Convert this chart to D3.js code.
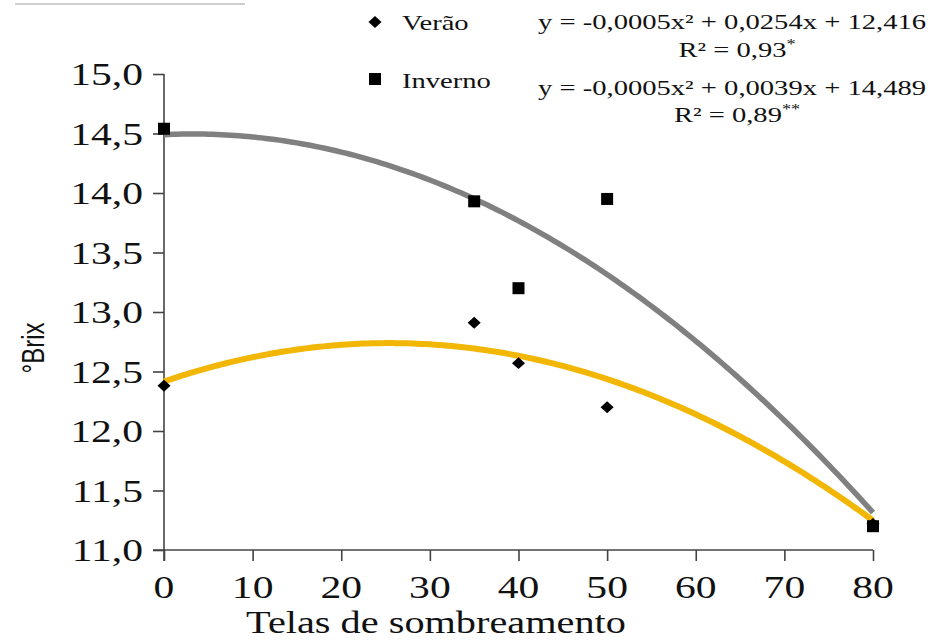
<!DOCTYPE html>
<html>
<head>
<meta charset="utf-8">
<script src="https://cdn.jsdelivr.net/npm/d3@7"></script>
<style>
  html, body { margin: 0; padding: 0; background: #fff; }
  svg { display: block; }
</style>
</head>
<body>
<svg id="chart" width="934" height="641"></svg>
<script>
// ---- data ----
const doses = [0, 35, 40, 50, 80];
const veraoValues = [12.38, 12.91, 12.57, 12.20, 11.22];
const invernoValues = [14.54, 13.93, 13.20, 13.95, 11.20];
// quadratic trend coefficients [a, b, c] for y = a x^2 + b x + c
const veraoTrend = [-0.0005, 0.0254, 12.416];
const invernoTrend = [-0.00054, 0.0035, 14.49];
const xTicks = [0, 10, 20, 30, 40, 50, 60, 70, 80];
const yTicks = [11.0, 11.5, 12.0, 12.5, 13.0, 13.5, 14.0, 14.5, 15.0];
const legendLabels = ["Verão", "Inverno"];
const equationLabels = ["y = -0,0005x² + 0,0254x + 12,416", "y = -0,0005x² + 0,0039x + 14,489"];
const r2Labels = ["R² = 0,93", "R² = 0,89"];
const r2Marks = ["*", "**"];
const xTitle = "Telas de sombreamento";
const yTitle = "°Brix";

// ---- layout ----
const SX = 1.3; // horizontal text stretch
const svg = d3.select("#chart");
const x = d3.scaleLinear().domain([0, 80]).range([164, 873]);
const y = d3.scaleLinear().domain([11, 15]).range([550, 74]);
const serif = "'Liberation Serif', 'Times New Roman', serif";
const sans = "'Liberation Sans', Arial, sans-serif";
const axisColor = "#444";

function stretchText(g, px, py, str, opts) {
  const t = g.append("text")
    .attr("transform", `translate(${px},${py}) scale(${SX},1)` + (opts.rotate ? ` rotate(${opts.rotate})` : ""))
    .attr("font-family", opts.family || serif)
    .attr("font-size", opts.size)
    .attr("text-anchor", opts.anchor || "start")
    .attr("fill", "#111")
    .text(str);
  return t;
}

// decorative top-left rule
svg.append("line").attr("x1", 15).attr("x2", 245).attr("y1", 4).attr("y2", 4)
  .attr("stroke", "#cfcfcf").attr("stroke-width", 2);

// axes
const xAxis = d3.axisBottom(x).tickValues(xTicks).tickSize(11).tickFormat("");
const yAxis = d3.axisLeft(y).tickValues(yTicks).tickSize(11).tickFormat("");
const gx = svg.append("g").attr("transform", `translate(0,${y(11)})`).call(xAxis);
const gy = svg.append("g").attr("transform", `translate(${x(0)},0)`).call(yAxis);
[gx, gy].forEach(g => {
  g.select(".domain").attr("stroke", axisColor).attr("stroke-width", 1.6);
  g.selectAll(".tick line").attr("stroke", axisColor).attr("stroke-width", 1.6);
});
gx.select(".domain").attr("d", `M${x(0) - 11},0H${x(80)}`);
gy.select(".domain").attr("d", `M0,${y(15)}V${y(11) + 11}`);

// tick labels
const labels = svg.append("g");
xTicks.forEach(v => stretchText(labels, x(v), 598, d3.format("d")(v), { size: 32, anchor: "middle" }));
yTicks.forEach(v => stretchText(labels, 143, y(v) + 11, d3.format(".1f")(v).replace(".", ","), { size: 32, anchor: "end" }));

// axis titles
stretchText(labels, 436, 633, xTitle, { size: 31, anchor: "middle" });
stretchText(labels, 44, 348, yTitle, { size: 24, anchor: "middle", family: sans, rotate: -90 });

// trend curves
const samples = d3.range(0, 80.01, 0.5);
const quad = c => v => c[0] * v * v + c[1] * v + c[2];
const line = d3.line().x(d => x(d[0])).y(d => y(d[1])).curve(d3.curveMonotoneX);
svg.append("path").datum(samples.map(v => [v, quad(invernoTrend)(v)]))
  .attr("d", line).attr("fill", "none").attr("stroke", "#808080").attr("stroke-width", 5.5);
svg.append("path").datum(samples.map(v => [v, quad(veraoTrend)(v)]))
  .attr("d", line).attr("fill", "none").attr("stroke", "#f2b705").attr("stroke-width", 6);

// points
const diamond = d3.symbol().type(d3.symbolDiamond2).size(90);
svg.append("g").selectAll("path").data(doses.map((d, i) => [d, veraoValues[i]]))
  .join("path")
  .attr("d", diamond)
  .attr("transform", d => `translate(${x(d[0])},${y(d[1])}) scale(1.1,1)`)
  .attr("fill", "#000");
svg.append("g").selectAll("rect").data(doses.map((d, i) => [d, invernoValues[i]]))
  .join("rect")
  .attr("x", d => x(d[0]) - 6).attr("y", d => y(d[1]) - 6)
  .attr("width", 12).attr("height", 12)
  .attr("fill", "#000");

// legend
const leg = svg.append("g");
leg.append("path").attr("d", diamond).attr("transform", "translate(375,22) scale(1.1,1)").attr("fill", "#000");
leg.append("rect").attr("x", 369).attr("y", 73).attr("width", 12).attr("height", 12).attr("fill", "#000");
stretchText(leg, 402, 30, legendLabels[0], { size: 22 });
stretchText(leg, 402, 88, legendLabels[1], { size: 22 });

// equations
const eqY = [29, 95];
const r2Y = [57, 122];
equationLabels.forEach((s, i) => {
  stretchText(leg, 732, eqY[i], s, { size: 22, anchor: "middle" });
  const t = stretchText(leg, 737, r2Y[i], r2Labels[i], { size: 22, anchor: "middle" });
  t.append("tspan").attr("dy", -8).attr("font-size", 14).text(r2Marks[i]);
});
</script>
</body>
</html>
